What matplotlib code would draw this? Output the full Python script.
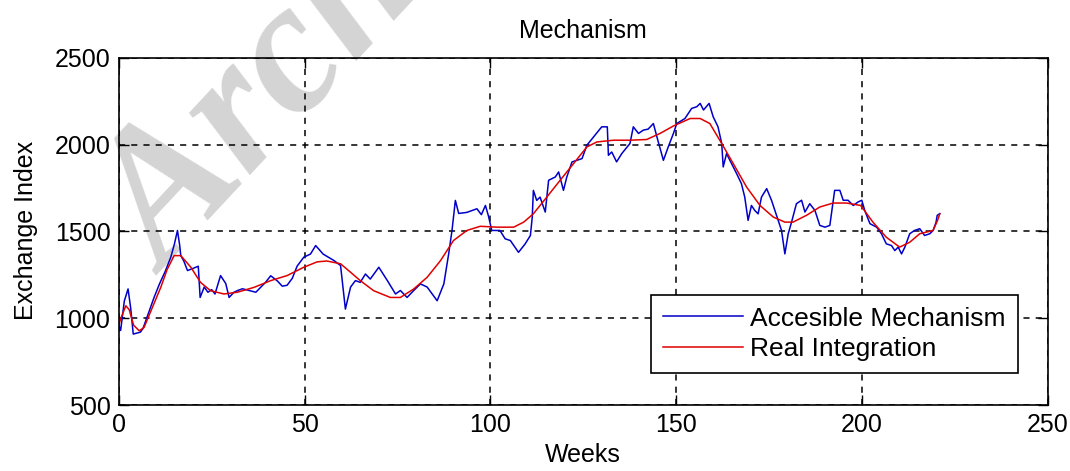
import numpy as np
import matplotlib
matplotlib.use("Agg")
import matplotlib.pyplot as plt

plt.rcParams['font.family'] = ['Liberation Sans', 'DejaVu Sans']

# blue series: accessible mechanism (week, index)
blue_weeks = [0, 0.5, 1.5, 2.5, 3.2, 3.9, 5, 5.8, 6.5, 8, 9.5, 11, 12.5, 14, 15, 15.8,
              16.4, 16.7, 17.5, 18.5, 20.3, 21.4, 21.9, 23, 24, 25, 25.9, 27.4, 28.8,
              29.7, 31, 32, 33.3, 35.1, 36.9, 39.5, 40.9, 42.7, 44, 45.3, 46.7, 48,
              49.8, 51.6, 53, 55, 57.9, 59.7, 61, 62.4, 63.7, 65, 66.4, 67.7, 70, 72.3,
              74.5, 75.8, 77.6, 79.4, 81.2, 83, 85.7, 87.5, 88.8, 89.7, 90.6, 91.5,
              93.7, 96.4, 97.6, 98.7, 99.5, 100.4, 102.6, 104, 105.4, 107.6, 109.4,
              110.8, 111.3, 111.6, 112.5, 113.4, 114.8, 115.7, 117.5, 118.4, 119.7,
              120.6, 122, 123.3, 124.7, 126, 127.8, 130, 131.5, 131.8, 132.7, 134,
              135.4, 137.6, 138.5, 139.9, 141.2, 142.5, 143.9, 145.1, 146.6, 147.9,
              149.3, 150.2, 152.4, 154.2, 155.6, 156.5, 157.4, 158.9, 160, 161.3,
              162.3, 162.7, 163.6, 164.5, 166.3, 167.6, 168.5, 169.4, 170.3, 171.2,
              172.1, 173, 174.4, 175.7, 177.5, 178.4, 179.3, 180.2, 181.1, 182.4,
              183.8, 184.7, 186, 187.4, 188.7, 190.1, 191.4, 192.7, 194.1, 195, 196.3,
              197.7, 199, 200, 200.8, 202.2, 204, 205.3, 206.6, 208, 208.9, 209.8,
              210.7, 211.6, 212.9, 214.2, 215.6, 216.9, 218.3, 219.2, 220, 220.3, 221]
blue_vals = [960, 930, 1100, 1169, 1060, 909, 915, 920, 940, 1030, 1120, 1200, 1270, 1352,
             1430, 1506, 1420, 1360, 1330, 1275, 1290, 1300, 1120, 1180, 1150, 1165, 1140,
             1246, 1200, 1120, 1150, 1160, 1170, 1160, 1150, 1207, 1245, 1215, 1185, 1190,
             1230, 1300, 1352, 1370, 1419, 1370, 1333, 1304, 1053, 1180, 1217, 1207, 1255,
             1226, 1294, 1217, 1140, 1160, 1120, 1160, 1198, 1180, 1101, 1198, 1371, 1506,
             1679, 1604, 1610, 1631, 1597, 1650, 1590, 1506, 1506, 1458, 1448, 1380, 1429,
             1477, 1583, 1737, 1679, 1698, 1612, 1795, 1814, 1843, 1737, 1814, 1901, 1910,
             1920, 1997, 2045, 2103, 2103, 1939, 1958, 1901, 1949, 2007, 2103, 2065, 2084,
             2090, 2122, 2026, 1910, 1987, 2065, 2122, 2151, 2209, 2219, 2238, 2200, 2238,
             2161, 2103, 2007, 1872, 1949, 1910, 1834, 1776, 1698, 1564, 1650, 1621, 1602,
             1698, 1747, 1680, 1564, 1506, 1371, 1487, 1554, 1660, 1680, 1612, 1660, 1621,
             1535, 1525, 1535, 1737, 1737, 1680, 1680, 1650, 1670, 1680, 1621, 1545, 1525,
             1487, 1429, 1419, 1390, 1410, 1371, 1410, 1487, 1506, 1516, 1477, 1487, 1506,
             1554, 1593, 1603]

# red series: real integration (week, index)
red_weeks = [0, 0.5, 1.9, 2.8, 4, 5.5, 6.8, 9, 11.3, 13, 14.9, 16.7, 19.4, 22, 24.7, 28.3,
             31.9, 36.4, 40.9, 45.3, 49.8, 53.4, 56, 59.7, 62.4, 65, 68.6, 73.1, 75.8,
             79.4, 83, 86.6, 90.1, 93.7, 97.3, 101.8, 106.3, 109, 111.6, 115.2, 118.8,
             122.4, 126, 128.7, 133.2, 137.6, 142.1, 145.7, 149.3, 153.8, 156.5, 159.1,
             162.3, 165.4, 169, 172.6, 176.2, 179.3, 181.5, 185.1, 188.7, 192.3, 195.9,
             199.7, 203, 206.6, 210.2, 212.9, 215.6, 219.2, 220.4, 221]
red_vals = [960, 997, 1072, 1050, 960, 928, 947, 1060, 1178, 1280, 1361, 1361, 1294, 1207,
            1159, 1140, 1150, 1178, 1217, 1246, 1294, 1325, 1330, 1314, 1265, 1217, 1159,
            1120, 1120, 1169, 1236, 1332, 1448, 1506, 1530, 1525, 1525, 1554, 1602, 1698,
            1795, 1891, 1987, 2016, 2026, 2026, 2030, 2065, 2108, 2151, 2151, 2122, 2007,
            1891, 1756, 1650, 1583, 1554, 1554, 1593, 1641, 1664, 1664, 1650, 1554, 1467,
            1410, 1438, 1487, 1506, 1564, 1602]

fig = plt.figure(figsize=(10.7, 4.71), dpi=100)
fig.patch.set_facecolor('white')

# watermark, behind everything
fig.text(0.155, 0.415, "Archive", fontsize=135, family='Liberation Serif',
         style='italic', weight='bold', color='#d4d4d4', rotation=47,
         rotation_mode='anchor', ha='left', va='baseline', zorder=-1)

ax = fig.add_axes([0.111, 0.140, 0.868, 0.737])
ax.set_facecolor('none')
ax.plot(blue_weeks, blue_vals, color='#0000c8', lw=1.1, label='Accesible Mechanism')
ax.plot(red_weeks, red_vals, color='#e00000', lw=1.1, label='Real Integration')

ax.set_xlim(0, 250)
ax.set_ylim(500, 2500)
ax.set_xticks([0, 50, 100, 150, 200, 250])
ax.set_yticks([500, 1000, 1500, 2000, 2500])
ax.grid(True, color='black', linestyle=(0, (4, 4)), lw=1.1)
ax.tick_params(direction='in', length=7, width=1, top=True, right=True,
               labelsize=18, pad=6)
for s in ax.spines.values():
    s.set_linewidth(1.2)

fig.text(0.545, 0.935, "Mechanism", fontsize=18, ha='center', va='center')
fig.text(0.545, 0.035, "Weeks", fontsize=18, ha='center', va='center')
fig.text(0.024, 0.51, "Exchange Index", fontsize=18, ha='center', va='center',
         rotation=90)

leg = ax.legend(loc='lower right', bbox_to_anchor=(0.968, 0.092), fontsize=19,
                frameon=True, fancybox=False, edgecolor='black', framealpha=1,
                handlelength=3.0, borderpad=0.45, labelspacing=0.25, handletextpad=0.3,
                borderaxespad=0)
leg.get_frame().set_linewidth(1.2)

fig.savefig("out.png", dpi=100)
